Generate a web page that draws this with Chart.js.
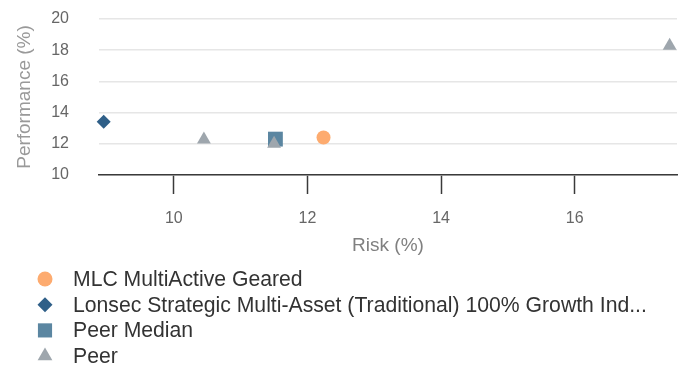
<!DOCTYPE html>
<html>
<head>
<meta charset="utf-8">
<script src="https://cdn.jsdelivr.net/npm/chart.js@4.4.1/dist/chart.umd.min.js"></script>
<style>
  html, body { margin: 0; padding: 0; background: #fff; }
  #wrap { width: 683px; height: 367px; }
</style>
</head>
<body>
<div id="wrap"><canvas id="riskChart" width="683" height="367"></canvas></div>
<script>
// ===== RISK / RETURN SCATTER =====
const seriesNames = [
  'MLC MultiActive Geared',
  'Lonsec Strategic Multi-Asset (Traditional) 100% Growth Ind...',
  'Peer Median',
  'Peer'
];
const fundRisk = [12.24];
const fundPerf = [12.4];
const indexRisk = [8.95];
const indexPerf = [13.42];
const medianRisk = [11.52];
const medianPerf = [12.3];
const peerRisk = [10.45, 11.5, 17.42];
const peerPerf = [12.28, 12.0, 18.28];

const yTicks = [10, 12, 14, 16, 18, 20];
const xTicks = [10, 12, 14, 16];

const FONT = '"Liberation Sans", Arial, sans-serif';

const toPoints = (xs, ys) => xs.map((x, i) => ({ x: x, y: ys[i] }));

// legend drawn as a plain vertical list under the plot
const listLegend = {
  id: 'listLegend',
  afterDraw(chart) {
    const ctx = chart.ctx;
    ctx.save();
    ctx.font = '21.2px ' + FONT;
    ctx.textBaseline = 'middle';
    chart.data.datasets.forEach((ds, i) => {
      const y = 279 + i * 25.7;
      ctx.fillStyle = ds.backgroundColor;
      Chart.helpers.drawPoint(ctx, { pointStyle: ds.pointStyle, radius: ds.legendRadius, borderWidth: 0, rotation: 0 }, 45, y);
      ctx.fillStyle = '#333';
      ctx.fillText(ds.label, 73, y + 1);
    });
    ctx.restore();
  }
};

const ctx = document.getElementById('riskChart').getContext('2d');
new Chart(ctx, {
  type: 'scatter',
  data: {
    datasets: [
      { label: seriesNames[0], data: toPoints(fundRisk, fundPerf), pointStyle: 'circle',
        backgroundColor: '#fdab6f', pointRadius: 7, legendRadius: 7.5, order: 1 },
      { label: seriesNames[1], data: toPoints(indexRisk, indexPerf), pointStyle: 'rectRot',
        backgroundColor: '#2f5f88', pointRadius: 7, legendRadius: 7.5, order: 1 },
      { label: seriesNames[2], data: toPoints(medianRisk, medianPerf), pointStyle: 'rect',
        backgroundColor: '#5b86a1', pointRadius: 10.5, legendRadius: 10, order: 1 },
      { label: seriesNames[3], data: toPoints(peerRisk, peerPerf), pointStyle: 'triangle',
        backgroundColor: '#9ea6ad', pointRadius: 8, legendRadius: 8.5, order: 0 }
    ].map(d => Object.assign(d, { borderWidth: 0, pointBorderWidth: 0, pointHoverRadius: d.pointRadius, clip: false }))
  },
  options: {
    responsive: false,
    animation: false,
    events: [],
    layout: { autoPadding: false, padding: { left: 0, right: 6, top: 19, bottom: 110 } },
    plugins: { legend: { display: false }, tooltip: { enabled: false } },
    scales: {
      x: {
        type: 'linear',
        min: 8.88,
        max: 17.53,
        afterBuildTicks: s => { s.ticks = xTicks.map(v => ({ value: v })); },
        afterFit: s => { s.height = 82; },
        grid: { drawOnChartArea: false, drawTicks: true, tickLength: 19, tickColor: '#3a3a3a', tickWidth: 1.5 },
        border: { display: true, color: '#3a3a3a', width: 1.5 },
        ticks: { padding: 15, color: '#666', font: { family: FONT, size: 16 }, includeBounds: false },
        title: { display: true, text: 'Risk (%)', color: '#808080', font: { family: FONT, size: 19 }, padding: { top: 0, bottom: 0 } }
      },
      y: {
        min: 10,
        max: 20,
        afterBuildTicks: s => { s.ticks = yTicks.map(v => ({ value: v })); },
        afterFit: s => { s.width = 99; },
        // invisible tick marks keep the labels away from the plot
        grid: { color: '#e6e6e6', lineWidth: 1.5, drawTicks: true, tickLength: 30, tickColor: 'rgba(0,0,0,0)' },
        border: { display: false },
        ticks: { padding: 0, color: '#666', font: { family: FONT, size: 16 } },
        title: { display: true, text: 'Performance (%)', color: '#999', font: { family: FONT, size: 19 }, padding: { top: 13, bottom: 0 } }
      }
    }
  },
  plugins: [listLegend]
});
</script>
</body>
</html>
